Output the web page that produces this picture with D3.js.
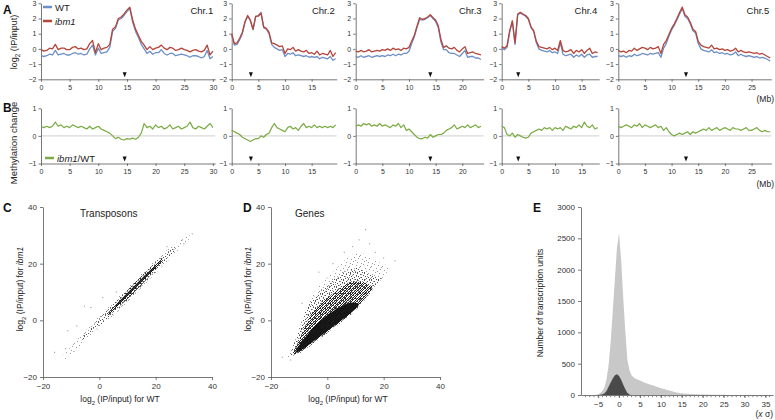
<!DOCTYPE html>
<html>
<head>
<meta charset="utf-8">
<script src="https://cdn.jsdelivr.net/npm/d3@7"></script>
<style>
  body { margin: 0; background: #fff; }
  svg { font-family: "Liberation Sans", Arial, sans-serif; }
  .axis path, .axis line { stroke: #555; stroke-width: 0.8; }
  .axis text { fill: #333; font-size: 7px; }
</style>
</head>
<body>
<svg id="fig" width="775" height="420"></svg>
<script>
// ---- panel A / B : chromosome profiles, one value every 0.5 Mb ----
var binMb = 0.5;
var chromNames = ["Chr.1", "Chr.2", "Chr.3", "Chr.4", "Chr.5"];
var chromLengthMb = [30.4, 19.7, 24.0, 18.3, 28.7];
var centromereMb = [14.6, 3.6, 14.0, 3.1, 12.7];

var wt_chr1 = [-0.45,-0.5,-0.45,-0.35,-0.4,-0.1,-0.4,-0.35,-0.3,-0.4,
  -0.4,-0.3,-0.25,-0.35,-0.3,-0.4,-0.35,0.0,0.25,-0.4,
  0.05,-0.3,-0.25,-0.2,0.1,1.15,1.35,1.9,2.0,2.2,
  2.45,2.65,1.75,1.15,0.75,0.3,0.0,-0.3,-0.15,-0.35,
  -0.25,-0.25,-0.05,-0.3,-0.4,-0.3,-0.3,-0.45,-0.4,-0.35,
  -0.4,-0.45,-0.55,-0.45,-0.45,-0.5,-0.6,-0.5,-0.1,-0.65,-0.5];
var ibm1_chr1 = [-0.05,-0.15,-0.1,0.05,0.0,0.3,-0.05,0.05,0.05,-0.05,
  -0.05,0.1,0.15,0.0,0.05,-0.05,0.0,0.35,0.55,-0.25,
  0.35,-0.05,0.05,0.1,0.3,1.3,1.45,2.0,2.1,2.3,
  2.55,2.75,1.9,1.3,0.9,0.5,0.25,-0.05,0.15,-0.05,
  0.05,0.1,0.25,0.05,-0.05,0.1,0.05,-0.1,-0.05,0.05,
  -0.05,-0.1,-0.2,-0.1,-0.05,-0.15,-0.2,-0.1,0.25,-0.4,-0.15];
var change_chr1 = [0.35,0.3,0.35,0.3,0.35,0.5,0.35,0.4,0.3,0.35,
  0.3,0.4,0.35,0.3,0.35,0.3,0.25,0.35,0.25,0.3,
  0.35,0.25,0.2,0.15,0.1,0.0,-0.1,-0.05,-0.12,-0.15,
  -0.1,-0.12,-0.08,-0.12,-0.05,0.1,0.45,0.3,0.35,0.25,
  0.4,0.3,0.35,0.25,0.3,0.4,0.25,0.3,0.35,0.25,
  0.3,0.35,0.5,0.3,0.25,0.35,0.3,0.25,0.35,0.45,0.3];

var wt_chr2 = [0.9,0.25,0.3,0.6,1.0,1.75,2.15,1.85,1.25,2.1,
  2.2,2.4,1.4,1.3,1.0,0.3,0.1,0.0,-0.1,-0.05,
  -0.5,-0.3,-0.35,-0.25,-0.45,-0.4,-0.45,-0.5,-0.45,-0.55,
  -0.5,-0.55,-0.5,-0.65,-0.55,-0.6,-0.65,-0.5,-0.75,-0.65];
var ibm1_chr2 = [1.0,0.35,0.4,0.7,1.1,1.8,2.2,1.9,1.3,2.15,
  2.15,2.35,1.45,1.35,1.1,0.4,0.35,0.25,0.15,0.2,
  -0.3,0.0,-0.05,0.1,-0.15,-0.05,-0.15,-0.2,-0.1,-0.3,
  -0.25,-0.35,-0.15,-0.4,-0.3,-0.35,-0.4,-0.1,-0.5,-0.25];
var change_chr2 = [0.2,0.15,0.1,0.05,-0.05,-0.1,-0.15,-0.2,-0.15,-0.1,
  -0.1,0.0,-0.05,0.05,0.1,0.3,0.45,0.3,0.25,0.2,
  0.15,0.3,0.35,0.25,0.3,0.2,0.35,0.45,0.3,0.35,
  0.3,0.4,0.3,0.35,0.3,0.35,0.3,0.35,0.3,0.4];

var wt_chr3 = [-0.5,-0.55,-0.45,-0.55,-0.5,-0.45,-0.55,-0.5,-0.45,-0.5,
  -0.45,-0.5,-0.4,-0.45,-0.35,-0.45,-0.35,-0.4,-0.3,-0.3,
  -0.15,0.35,0.8,1.4,1.95,1.9,1.95,2.05,2.2,2.0,
  1.8,1.4,0.45,-0.05,-0.05,-0.25,-0.3,-0.3,-0.4,-0.5,
  -0.3,-0.1,-0.55,-0.5,-0.5,-0.6,-0.6,-0.7];
var ibm1_chr3 = [-0.15,-0.2,-0.1,-0.2,-0.15,-0.05,-0.2,-0.15,-0.1,-0.15,
  -0.05,-0.1,0.0,-0.1,0.05,-0.05,0.0,-0.1,0.05,0.0,
  0.1,0.5,0.9,1.5,2.05,1.95,2.0,2.1,2.25,2.05,
  1.9,1.5,0.6,0.1,0.2,0.05,0.0,0.1,-0.1,-0.2,
  0.0,0.15,-0.3,-0.25,-0.2,-0.3,-0.35,-0.4];
var change_chr3 = [0.35,0.4,0.35,0.45,0.4,0.45,0.35,0.4,0.35,0.45,
  0.35,0.4,0.35,0.3,0.4,0.35,0.45,0.3,0.4,0.2,
  0.25,0.15,0.05,-0.05,-0.1,-0.1,-0.05,-0.08,0.05,-0.05,
  0.0,0.05,0.05,0.1,0.2,0.25,0.3,0.4,0.25,0.3,
  0.35,0.3,0.4,0.3,0.35,0.4,0.3,0.35];

var wt_chr4 = [0.05,-0.05,0.1,1.1,1.8,0.3,2.25,2.35,2.25,2.15,
  1.95,1.4,1.15,0.4,0.0,-0.1,-0.15,-0.2,-0.1,-0.25,
  -0.2,-0.3,0.4,-0.35,-0.45,-0.4,-0.35,-0.55,-0.4,-0.5,
  -0.35,-0.55,-0.4,-0.35,-0.55,-0.5,-0.5];
var ibm1_chr4 = [0.15,0.05,0.2,1.2,1.85,0.4,2.3,2.4,2.3,2.2,
  2.0,1.45,1.2,0.5,0.15,0.1,0.05,0.0,0.1,-0.05,
  0.05,-0.1,0.55,-0.1,-0.2,-0.15,-0.05,-0.3,-0.1,-0.2,
  -0.05,-0.3,-0.1,0.05,-0.3,-0.2,-0.25];
var change_chr4 = [0.35,0.3,0.05,0.0,0.1,-0.05,0.05,0.0,-0.05,-0.08,
  -0.05,0.1,0.15,0.2,0.25,0.2,0.3,0.25,0.3,0.2,
  0.3,0.25,0.3,0.2,0.35,0.3,0.25,0.35,0.3,0.4,
  0.3,0.5,0.35,0.3,0.4,0.25,0.3];

var wt_chr5 = [-0.45,-0.5,-0.45,-0.55,-0.45,-0.5,-0.35,-0.45,-0.4,-0.3,
  -0.35,-0.4,-0.3,-0.35,-0.3,-0.25,-0.55,0.05,0.35,0.85,
  1.25,1.55,1.9,2.3,2.65,2.15,2.0,1.65,1.2,1.05,
  0.35,0.0,-0.1,-0.15,-0.2,-0.05,-0.25,-0.2,-0.3,-0.25,
  -0.35,-0.3,-0.4,-0.35,-0.2,-0.45,-0.35,-0.45,-0.5,-0.45,
  -0.5,-0.55,-0.5,-0.6,-0.55,-0.6,-0.7,-0.8];
var ibm1_chr5 = [-0.1,-0.2,-0.15,-0.25,-0.1,-0.15,0.05,-0.1,0.0,0.1,
  0.05,-0.05,0.1,0.0,0.05,0.15,-0.3,0.3,0.55,0.95,
  1.35,1.65,2.0,2.4,2.75,2.25,2.1,1.75,1.3,1.15,
  0.5,0.25,0.15,0.1,0.05,0.25,0.0,0.05,-0.05,0.0,
  -0.1,-0.05,-0.15,-0.1,0.05,-0.2,-0.1,-0.2,-0.25,-0.2,
  -0.25,-0.3,-0.25,-0.35,-0.3,-0.4,-0.5,-0.6];
var change_chr5 = [0.35,0.3,0.35,0.4,0.35,0.3,0.4,0.35,0.45,0.3,
  0.4,0.35,0.3,0.35,0.4,0.3,0.35,0.2,0.3,0.15,
  0.05,0.0,0.05,0.1,0.05,0.1,0.15,0.05,0.15,0.1,
  0.15,0.2,0.25,0.2,0.3,0.2,0.25,0.3,0.2,0.25,
  0.3,0.25,0.2,0.3,0.25,0.25,0.2,0.25,0.3,0.2,
  0.2,0.25,0.3,0.2,0.15,0.2,0.15,0.15];

var wtProfiles = [wt_chr1, wt_chr2, wt_chr3, wt_chr4, wt_chr5];
var ibm1Profiles = [ibm1_chr1, ibm1_chr2, ibm1_chr3, ibm1_chr4, ibm1_chr5];
var changeProfiles = [change_chr1, change_chr2, change_chr3, change_chr4, change_chr5];

// ---- panel C : transposons cloud (x = WT, y = ibm1), density bands ----
var te_outerX  = [-13, -10, -7, -4, -1, 2, 5, 8, 11, 14, 17, 20, 23, 26, 29, 32];
var te_outerLo = [-14.5, -11.8, -9.1, -6.3, -3.5, -1.0, 1.6, 4.5, 7.5, 10.5, 13.5, 16.6, 19.6, 22.7, 25.8, 28.8];
var te_outerHi = [-12.5, -9.2, -5.9, -2.7, 0.5, 3.4, 6.4, 9.5, 12.5, 15.5, 18.5, 21.4, 24.0, 26.3, 28.6, 30.8];
var te_midX  = [-6, -3, 0, 3, 6, 9, 12, 15, 18, 21, 24, 27];
var te_midLo = [-7.0, -4.6, -1.9, 0.5, 3.1, 6.0, 9.0, 12.0, 15.1, 18.2, 21.4, 24.8];
var te_midHi = [-6.0, -2.6, 0.7, 3.7, 6.9, 10.0, 13.0, 16.0, 18.9, 21.6, 24.0, 26.0];
var te_coreX  = [3, 5, 8, 11, 14, 17, 20, 22.5];
var te_coreLo = [1.7, 3.1, 5.7, 8.5, 11.5, 14.6, 17.9, 20.8];
var te_coreHi = [2.5, 4.9, 8.3, 11.5, 14.5, 17.4, 20.1, 21.8];
var te_innerX  = [6, 9, 12, 15, 18, 20];
var te_innerLo = [4.8, 7.6, 10.6, 13.6, 16.7, 18.6];
var te_innerHi = [5.6, 8.8, 11.8, 14.8, 17.7, 19.4];
var te_outliers = [[-5.3, 5], [-11.2, -3.7], [29.5, 28.4], [26.5, 24.9], [1.2, 8], [-15.9, -11.3],
  [-8, -2], [-3, 4.5], [33, 30.5], [30, 27], [-9, -11], [24, 26], [-12, -10], [6, 10]];

// ---- panel D : genes cloud ----
var gene_outerX  = [-14, -12, -10, -8, -6, -4, -2, 0, 2, 4, 6, 8, 10, 12, 14, 16, 18, 20, 22];
var gene_outerLo = [-13, -12.5, -12, -10.5, -9, -7.5, -6, -4.5, -3, -1.5, 0, 1.5, 3.5, 5.5, 8, 10.5, 13, 15.5, 18];
var gene_outerHi = [-12, -9, -5, 2, 8, 11, 13, 15, 17, 19, 21, 23, 24, 24, 23, 21.5, 20.5, 20, 19];
var gene_ringX  = [-13, -11, -9, -7, -5, -3, -1, 1, 3, 5, 7, 9, 11, 13, 15, 17, 19];
var gene_ringLo = [-12.8, -12.2, -11.2, -9.8, -8.2, -6.8, -5.2, -3.8, -2.2, -0.8, 0.8, 2.5, 4.5, 6.8, 9.2, 11.8, 14.5];
var gene_ringHi = [-11.5, -6, 0, 5, 8, 10, 12, 13.5, 15, 16.5, 17.5, 18.5, 18.5, 17.5, 16, 15.5, 15];
var gene_midX  = [-12, -10, -8, -6, -4, -2, 0, 2, 4, 6, 8, 10, 12, 14, 16];
var gene_midLo = [-12, -11.5, -10, -8.5, -7, -5.5, -4, -2.5, -1, 0.5, 2, 4, 6, 8.5, 11];
var gene_midHi = [-11, -7, -2, 2, 4.5, 6.5, 8, 9.5, 11, 12.5, 13.5, 14, 13.5, 13, 12];
var gene_coreX  = [-11, -9, -7, -5, -3, -1, 1, 3, 5, 7, 9, 11];
var gene_coreLo = [-11.5, -10.5, -9, -7.5, -6, -4.5, -3, -1.5, 0, 1.5, 3, 5];
var gene_coreHi = [-10, -7.5, -5, -2.5, -0.5, 1, 2.5, 4, 5, 6, 6.5, 6];
var gene_outliers = [[13.6, 32], [11.3, 28.4], [9, 26], [17, 24], [-16, -13], [-13, -14], [20, 22],
  [24, 21], [6, 24], [-3, 17], [2, 20], [-9, 6], [15, 27]];

// ---- panel E : histograms, bin width 0.5 sigma ----
var histBinWidth = 0.5;
var allStart = -6.25;
var allCounts = [2,4,12,30,60,120,250,480,850,1350,
  1850,2350,2580,2150,1550,1000,560,390,310,280,
  260,245,230,215,200,188,175,165,155,145,
  133,120,106,98,90,80,70,62,53,45,
  37,32,27,24,21,18,16,14,12,11,
  10,9,8,7,6,6,5,5,4,4,
  3,3,3,2,2,2,2,2,2,1,
  1,1,1,1,1,1,1,1,1,1,
  1,1,1,1,1];
var subsetStart = -4.75;
var subsetCounts = [3,10,25,65,130,200,265,315,330,305,245,165,90,30,6];

// ---------------------------------------------------------------
var svg = d3.select("#fig");
var WT_COL = "#6d8ec6", IBM_COL = "#b5453a", CHG_COL = "#7bab43";

function fmt(d) { return d < 0 ? "\u2212" + Math.abs(d) : String(d); }

// speckle patterns for the scatter clouds (irregular dot tiles)
var defs = svg.append("defs");
function speckle(id, size, dots, col) {
  var p = defs.append("pattern").attr("id", id).attr("width", size).attr("height", size)
    .attr("patternUnits", "userSpaceOnUse");
  dots.forEach(function(d) {
    p.append("rect").attr("x", d[0]).attr("y", d[1]).attr("width", 1).attr("height", 1).attr("fill", col);
  });
}
speckle("spLight", 11, [[0,0],[4,1],[8,2],[2,4],[6,5],[10,6],[1,8],[5,9],[9,10],[3,7],[7,3]], "#9a9a9a");
speckle("spMid", 7, [[0,0],[3,1],[6,2],[1,3],[4,4],[2,5],[5,6],[0,6]], "#555");
speckle("spDense", 5, [[0,0],[2,0],[4,1],[1,1],[3,2],[0,2],[2,3],[4,3],[1,4],[3,4],[0,3]], "#222");

// ================= panel A & B =================
var yA = d3.scaleLinear().domain([-2, 3]).range([79.3, 3.3]);
var yB = d3.scaleLinear().domain([-1, 1]).range([163.5, 108.3]);
var chromX0 = [41, 231.7, 355.7, 501.7, 618.3];
var chromK = [5.73, 5.33, 5.33, 5.33, 5.33];

chromNames.forEach(function(name, i) {
  var len = chromLengthMb[i];
  var x = d3.scaleLinear().domain([0, len]).range([chromX0[i], chromX0[i] + len * chromK[i]]);
  var xt = d3.range(0, len + 0.01, 5);

  // axes A
  svg.append("g").attr("class", "axis").attr("transform", "translate(" + x(0) + ",0)")
    .call(d3.axisLeft(yA).tickValues([-2,-1,0,1,2,3]).tickFormat(fmt).tickSize(2.5).tickSizeOuter(0).tickPadding(2));
  svg.append("g").attr("class", "axis").attr("transform", "translate(0," + yA(-2) + ")")
    .call(d3.axisBottom(x).tickValues(xt).tickSize(2.5).tickSizeOuter(0).tickPadding(3));
  // axes B
  svg.append("line").attr("x1", x(0)).attr("x2", x(len)).attr("y1", yB(0)).attr("y2", yB(0))
    .attr("stroke", "#cfcfcf").attr("stroke-width", 1);
  svg.append("g").attr("class", "axis").attr("transform", "translate(" + x(0) + ",0)")
    .call(d3.axisLeft(yB).tickValues([-1,0,1]).tickFormat(fmt).tickSize(2.5).tickSizeOuter(0).tickPadding(2));
  svg.append("g").attr("class", "axis").attr("transform", "translate(0," + yB(-1) + ")")
    .call(d3.axisBottom(x).tickValues(xt).tickSize(2.5).tickSizeOuter(0).tickPadding(3));

  var lineA = d3.line().x(function(d, j) { return x(j * binMb); }).y(function(d) { return yA(d); });
  var lineB = d3.line().x(function(d, j) { return x(j * binMb); }).y(function(d) { return yB(d); });
  svg.append("path").datum(wtProfiles[i]).attr("d", lineA).attr("fill", "none")
    .attr("stroke", WT_COL).attr("stroke-width", 1.3).attr("stroke-linejoin", "round");
  svg.append("path").datum(ibm1Profiles[i]).attr("d", lineA).attr("fill", "none")
    .attr("stroke", IBM_COL).attr("stroke-width", 1.3).attr("stroke-linejoin", "round");
  svg.append("path").datum(changeProfiles[i]).attr("d", lineB).attr("fill", "none")
    .attr("stroke", CHG_COL).attr("stroke-width", 1.2).attr("stroke-linejoin", "round");

  // centromere markers
  [yA(-2), yB(-1)].forEach(function(yb) {
    var cx = x(centromereMb[i]);
    svg.append("path").attr("d", "M" + (cx - 2) + "," + (yb - 7) + "L" + (cx + 2) + "," + (yb - 7) + "L" + cx + "," + (yb - 2) + "Z")
      .attr("fill", "#111");
  });

  svg.append("text").attr("x", x(len) - 2).attr("y", 14).attr("text-anchor", "end")
    .attr("font-size", 9.5).attr("fill", "#222").text(name);
});

// (Mb) labels
svg.append("text").attr("x", 774).attr("y", 102).attr("text-anchor", "end").attr("font-size", 8.5).attr("fill", "#222").text("(Mb)");
svg.append("text").attr("x", 774).attr("y", 187).attr("text-anchor", "end").attr("font-size", 8.5).attr("fill", "#222").text("(Mb)");

// legends
svg.append("line").attr("x1", 43).attr("x2", 52).attr("y1", 7).attr("y2", 7).attr("stroke", WT_COL).attr("stroke-width", 2.5);
svg.append("text").attr("x", 55).attr("y", 10.5).attr("font-size", 9.5).attr("fill", "#222").text("WT");
svg.append("line").attr("x1", 43).attr("x2", 52).attr("y1", 21).attr("y2", 21).attr("stroke", IBM_COL).attr("stroke-width", 2.5);
svg.append("text").attr("x", 55).attr("y", 24.5).attr("font-size", 9.5).attr("fill", "#222").attr("font-style", "italic").text("ibm1");
svg.append("line").attr("x1", 45).attr("x2", 54).attr("y1", 158).attr("y2", 158).attr("stroke", CHG_COL).attr("stroke-width", 2.5);
var lgB = svg.append("text").attr("x", 57).attr("y", 161.5).attr("font-size", 9.5).attr("fill", "#222");
lgB.append("tspan").attr("font-style", "italic").text("ibm1");
lgB.append("tspan").text("/WT");

// y titles A, B
function log2Label(sel, tail, italicTail) {
  sel.append("tspan").text("log");
  sel.append("tspan").attr("font-size", "0.7em").attr("dy", 2.5).text("2");
  sel.append("tspan").attr("dy", -2.5).text(" (IP/input)" + tail);
  if (italicTail) sel.append("tspan").attr("font-style", "italic").text(italicTail);
}
var tA = svg.append("text").attr("transform", "translate(17,42) rotate(-90)").attr("text-anchor", "middle")
  .attr("font-size", 9).attr("fill", "#222");
log2Label(tA, "", null);
svg.append("text").attr("transform", "translate(17,143) rotate(-90)").attr("text-anchor", "middle")
  .attr("font-size", 9.5).attr("fill", "#222").text("Methylation change");

// panel letters
[["A", 3, 14], ["B", 3, 112], ["C", 3, 212], ["D", 243, 212], ["E", 533, 212]].forEach(function(l) {
  svg.append("text").attr("x", l[1]).attr("y", l[2]).attr("font-size", 12).attr("font-weight", "bold")
    .attr("fill", "#111").text(l[0]);
});

// ================= panels C & D =================
function scatterPanel(x0, title, titleX, bands, outliers) {
  var x = d3.scaleLinear().domain([-20, 40]).range([x0, x0 + 169]);
  var y = d3.scaleLinear().domain([-20, 40]).range([377, 207]);
  var g = svg.append("g");
  bands.forEach(function(b) {
    var pts = b.xs.map(function(v, j) { return [v, b.lo[j], b.hi[j]]; });
    g.append("path").datum(pts)
      .attr("d", d3.area().curve(d3.curveBasis)
        .x(function(d) { return x(d[0]); }).y0(function(d) { return y(d[1]); }).y1(function(d) { return y(d[2]); }))
      .attr("fill", b.fill).attr("opacity", b.op);
  });
  g.selectAll("rect.out").data(outliers).enter().append("rect")
    .attr("x", function(d) { return x(d[0]) - 0.5; }).attr("y", function(d) { return y(d[1]) - 0.5; })
    .attr("width", 1).attr("height", 1).attr("fill", "#888");

  svg.append("g").attr("class", "axis").attr("transform", "translate(" + x0 + ",0)")
    .call(d3.axisLeft(y).tickValues([-20, 0, 20, 40]).tickFormat(fmt).tickSize(3).tickSizeOuter(0).tickPadding(3))
    .selectAll("text").style("font-size", "8px");
  svg.append("g").attr("class", "axis").attr("transform", "translate(0,377)")
    .call(d3.axisBottom(x).tickValues([-20, 0, 20, 40]).tickFormat(fmt).tickSize(3).tickSizeOuter(0).tickPadding(3))
    .selectAll("text").style("font-size", "8px");

  svg.append("text").attr("x", titleX).attr("y", 217).attr("font-size", 10).attr("fill", "#222").text(title);
  var tx = svg.append("text").attr("x", x0 + 77).attr("y", 402).attr("text-anchor", "middle")
    .attr("font-size", 8.5).attr("fill", "#222");
  log2Label(tx, " for WT", null);
  var ty = svg.append("text").attr("transform", "translate(" + (x0 - 20) + ",289) rotate(-90)")
    .attr("text-anchor", "middle").attr("font-size", 8.5).attr("fill", "#222");
  log2Label(ty, " for ", "ibm1");
}

scatterPanel(43, "Transposons", 80, [
  { xs: te_outerX, lo: te_outerLo, hi: te_outerHi, fill: "url(#spLight)", op: 1 },
  { xs: te_midX, lo: te_midLo, hi: te_midHi, fill: "url(#spMid)", op: 1 },
  { xs: te_coreX, lo: te_coreLo, hi: te_coreHi, fill: "url(#spDense)", op: 1 },
  { xs: te_innerX, lo: te_innerLo, hi: te_innerHi, fill: "#1a1a1a", op: 0.85 }
], te_outliers);

scatterPanel(271, "Genes", 295, [
  { xs: gene_outerX, lo: gene_outerLo, hi: gene_outerHi, fill: "url(#spLight)", op: 1 },
  { xs: gene_ringX, lo: gene_ringLo, hi: gene_ringHi, fill: "url(#spMid)", op: 1 },
  { xs: gene_midX, lo: gene_midLo, hi: gene_midHi, fill: "url(#spDense)", op: 1 },
  { xs: gene_coreX, lo: gene_coreLo, hi: gene_coreHi, fill: "#111", op: 0.95 }
], gene_outliers);

// ================= panel E =================
var xE = d3.scaleLinear().domain([-9.1, 36.8]).range([581, 773]);
var yE = d3.scaleLinear().domain([0, 3000]).range([395, 207]);

// outline through bin centres, closed on the baseline
function histPath(start, counts) {
  var pts = counts.map(function(c, j) { return [start + (j + 0.5) * histBinWidth, c]; });
  pts.unshift([start, 0]);
  pts.push([start + counts.length * histBinWidth, 0]);
  return d3.area()
    .x(function(d) { return xE(d[0]); }).y0(yE(0)).y1(function(d) { return yE(d[1]); })(pts);
}
svg.append("path").attr("d", histPath(allStart, allCounts)).attr("fill", "#c8c8c8");
svg.append("path").attr("d", histPath(subsetStart, subsetCounts)).attr("fill", "#4a4a4a");

svg.append("g").attr("class", "axis").attr("transform", "translate(581,0)")
  .call(d3.axisLeft(yE).tickValues(d3.range(0, 3001, 500)).tickFormat(d3.format("d")).tickSize(3).tickSizeOuter(0).tickPadding(3))
  .selectAll("text").style("font-size", "8px");
var ax = svg.append("g").attr("class", "axis").attr("transform", "translate(0,395)")
  .call(d3.axisBottom(xE).tickValues(d3.range(-5, 36, 5)).tickFormat(fmt).tickSize(3).tickSizeOuter(0).tickPadding(3));
ax.selectAll("text").style("font-size", "8px");
// dotted minor marks under the sigma axis
svg.append("g").selectAll("rect").data(d3.range(-8, 37, 1)).enter().append("rect")
  .attr("x", function(d) { return xE(d) - 0.4; }).attr("y", 396).attr("width", 0.8).attr("height", 1.2).attr("fill", "#666");

var tE = svg.append("text").attr("x", 773).attr("y", 417).attr("text-anchor", "end").attr("font-size", 8.5).attr("fill", "#222");
tE.append("tspan").text("(");
tE.append("tspan").attr("font-style", "italic").text("x");
tE.append("tspan").text(" \u03c3)");
svg.append("text").attr("transform", "translate(543,303) rotate(-90)").attr("text-anchor", "middle")
  .attr("font-size", 8.5).attr("fill", "#222").text("Number of transcription units");
</script>
</body>
</html>
